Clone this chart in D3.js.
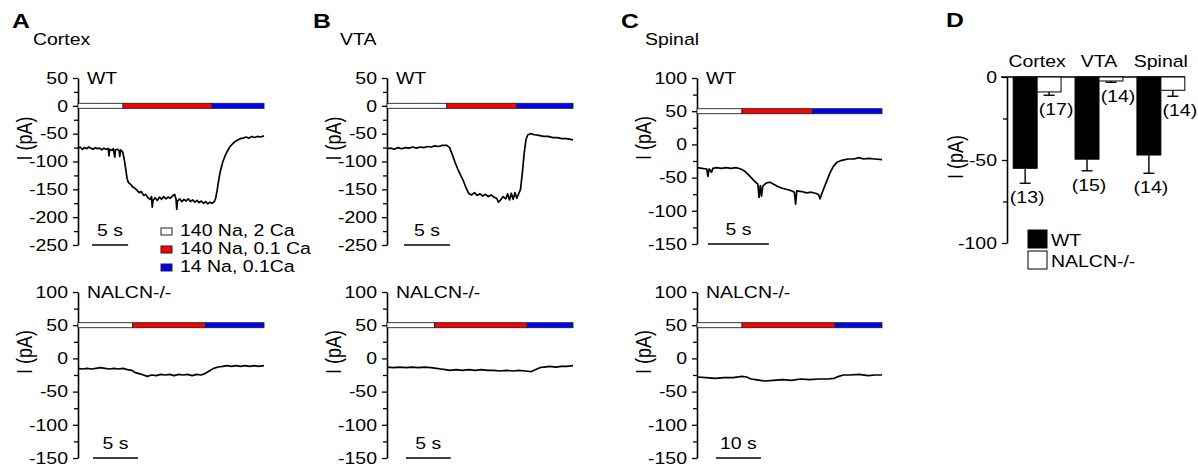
<!DOCTYPE html>
<html>
<head>
<meta charset="utf-8">
<script src="https://cdn.jsdelivr.net/npm/d3@7"></script>
<style>
  body { margin: 0; background: #fff; }
  svg { display: block; }
</style>
</head>
<body>
<div id="fig"></div>
<script>
// whole-cell currents, [time (s), current (pA)]
const cortexWT = [[0,-76],[0.3,-74],[0.6,-78],[0.9,-75],[1.2,-77],[1.5,-74],[1.8,-76],[2.1,-78],[2.4,-75],[2.7,-77],[3.0,-76],[3.3,-79],[3.6,-76],[3.9,-78],[4.2,-77],[4.3,-90],[4.4,-78],[4.7,-80],[4.9,-77],[5.1,-92],[5.2,-79],[5.5,-78],[5.7,-81],[5.8,-91],[5.9,-79],[6.2,-83],[6.4,-95],[6.6,-112],[6.8,-130],[7.0,-138],[7.3,-141],[7.6,-146],[7.9,-148],[8.2,-152],[8.5,-156],[8.8,-154],[9.1,-161],[9.4,-159],[9.7,-165],[10.0,-168],[10.2,-163],[10.3,-182],[10.4,-170],[10.7,-165],[11.0,-170],[11.3,-164],[11.6,-168],[11.9,-163],[12.2,-167],[12.5,-164],[12.8,-166],[13.1,-162],[13.4,-159],[13.6,-168],[13.7,-186],[13.8,-171],[14.1,-167],[14.4,-172],[14.7,-168],[15.0,-171],[15.3,-167],[15.6,-172],[15.9,-169],[16.2,-173],[16.5,-170],[16.8,-174],[17.1,-171],[17.4,-175],[17.7,-172],[18.0,-176],[18.3,-173],[18.6,-175],[18.9,-172],[19.1,-166],[19.3,-152],[19.5,-135],[19.7,-120],[19.9,-110],[20.1,-100],[20.4,-90],[20.7,-82],[21.0,-75],[21.3,-70],[21.7,-65],[22.1,-62],[22.5,-59],[22.9,-58],[23.3,-56],[23.7,-58],[24.1,-55],[24.5,-57],[24.9,-55],[25.3,-56],[25.8,-54]];
const cortexKO = [[0,-15],[0.5,-16],[1,-15],[1.5,-16],[2,-15],[2.5,-14],[3,-15],[3.5,-16],[4,-15],[4.5,-16],[5,-15],[5.5,-17],[6,-18],[6.3,-21],[6.8,-23],[7.3,-25],[7.7,-27],[8.2,-25],[8.7,-26],[9.2,-24],[9.7,-25],[10.2,-24],[10.7,-26],[11.2,-24],[11.7,-25],[12.2,-24],[12.7,-26],[13.2,-24],[13.7,-25],[14.1,-23],[14.6,-19],[15.1,-15],[15.6,-13],[16.1,-12],[16.6,-11],[17.1,-12],[17.6,-11],[18.1,-12],[18.6,-11],[19.1,-12],[19.6,-11],[20.1,-12],[20.7,-11]];
const vtaWT = [[0,-77],[0.4,-76],[0.8,-78],[1.2,-75],[1.6,-77],[2.0,-75],[2.4,-76],[2.8,-74],[3.2,-76],[3.6,-74],[4.0,-75],[4.4,-73],[4.8,-74],[5.2,-72],[5.6,-73],[6.0,-71],[6.5,-71],[6.8,-75],[7.1,-88],[7.4,-102],[7.7,-114],[8.0,-125],[8.3,-135],[8.6,-148],[8.9,-158],[9.2,-160],[9.5,-156],[9.8,-161],[10.1,-158],[10.4,-162],[10.7,-159],[11.0,-163],[11.3,-160],[11.6,-164],[11.9,-166],[12.1,-173],[12.3,-170],[12.6,-163],[12.9,-167],[13.1,-158],[13.3,-169],[13.5,-157],[13.7,-168],[13.9,-156],[14.1,-166],[14.3,-158],[14.5,-150],[14.7,-120],[14.9,-85],[15.1,-60],[15.3,-52],[15.6,-50],[16.0,-52],[16.5,-53],[17.0,-55],[17.5,-55],[18.0,-57],[18.5,-57],[19.0,-59],[19.5,-59],[20.2,-61]];
const vtaKO = [[0,-13],[0.7,-14],[1.4,-13],[2.1,-14],[2.8,-13],[3.5,-14],[4.2,-13],[4.9,-14],[5.5,-15],[6.0,-16],[6.5,-17],[7.0,-18],[7.7,-17],[8.4,-18],[9.1,-17],[9.8,-18],[10.5,-17],[11.2,-18],[11.9,-18],[12.6,-19],[13.3,-18],[14.0,-19],[14.7,-18],[15.4,-19],[16.0,-20],[16.5,-17],[17.0,-14],[17.5,-13],[18.1,-12],[18.8,-13],[19.4,-12],[20.0,-12],[20.7,-11]];
const spinalWT = [[0,-35],[0.4,-36],[0.8,-37],[0.9,-48],[1.0,-37],[1.2,-42],[1.3,-36],[1.6,-35],[2.0,-36],[2.4,-35],[2.8,-36],[3.2,-35],[3.6,-37],[3.9,-40],[4.3,-47],[4.7,-55],[5.0,-60],[5.1,-80],[5.2,-62],[5.3,-78],[5.4,-63],[5.7,-58],[6.0,-57],[6.3,-60],[6.6,-63],[7.0,-66],[7.4,-68],[7.8,-70],[8.0,-72],[8.1,-90],[8.2,-70],[8.6,-71],[9.0,-73],[9.4,-72],[9.8,-74],[10.0,-76],[10.1,-82],[10.3,-72],[10.6,-58],[10.9,-44],[11.2,-33],[11.5,-27],[11.9,-24],[12.4,-22],[12.9,-22],[13.3,-20],[13.7,-22],[14.1,-21],[14.6,-22],[15.2,-23]];
const spinalKO = [[0,-28],[2,-29],[4,-30],[6,-29],[8,-29],[10,-27],[11,-28],[12,-31],[13,-32],[14,-33],[15,-34],[17,-33],[19,-32],[21,-33],[23,-31],[25,-32],[27,-31],[29,-31],[30.5,-30],[31.5,-27],[32.5,-25],[34,-25],[36,-24],[38,-26],[39.5,-25],[41.1,-25]];

// solution switch times (s): end of white, red, blue segments
const solutions = ['140 Na, 2 Ca', '140 Na, 0.1 Ca', '14 Na, 0.1Ca'];
const solColors = ['#ffffff', '#ff0000', '#0000ff'];
const cortexWTStim = [6.25, 18.6, 25.8];
const cortexKOStim = [6.1, 14.2, 20.7];
const vtaWTStim = [6.5, 14.1, 20.2];
const vtaKOStim = [5.3, 15.6, 20.7];
const spinalWTStim = [3.7, 9.5, 15.2];
const spinalKOStim = [10, 30.7, 41.1];

// panel D summary
const regions = ['Cortex', 'VTA', 'Spinal'];
const wtMean = [-55, -49.5, -47];
const wtSem = [9, 7, 11];
const koMean = [-9, -2.4, -8];
const koSem = [2, 0.8, 3.6];
const wtN = [13, 15, 14];
const koN = [17, 14, 14];

const W = 1198, H = 468;
const FONT = '"Liberation Sans", Arial, sans-serif';
const FS = 16.5, SX = 1.18;

const svg = d3.select('#fig').append('svg')
    .attr('width', W).attr('height', H)
    .style('font-family', FONT);
svg.append('rect').attr('width', W).attr('height', H).attr('fill', '#fff');

// text helper, glyphs are a bit wide in the original
function txt(x, y, s, opt) {
    opt = opt || {};
    let tf = `translate(${x},${y}) scale(${SX},1)`;
    if (opt.rot) tf += ' rotate(-90)';
    return svg.append('text')
        .attr('transform', tf)
        .attr('text-anchor', opt.anchor || 'start')
        .style('font-size', (opt.size || FS) + 'px')
        .style('font-weight', opt.bold ? 'bold' : null)
        .text(s);
}

function yAxis(x, y, major, minor) {
    const g = svg.append('g').attr('transform', `translate(${x},0)`);
    g.call(d3.axisLeft(y).tickValues(minor).tickSize(4).tickSizeOuter(0).tickFormat(''))
        .select('.domain').remove();
    const a = svg.append('g').attr('transform', `translate(${x},0)`)
        .call(d3.axisLeft(y).tickValues(major).tickSize(5).tickPadding(5).tickSizeOuter(0)
            .tickFormat(d => String(d)));
    svg.selectAll('.tick line').attr('stroke', '#000').attr('stroke-width', 1.3);
    a.select('.domain').attr('stroke', '#000').attr('stroke-width', 1.6);
    a.selectAll('.tick text').each(function () {
        const t = d3.select(this);
        const tx = +t.attr('x');
        t.attr('x', null).attr('transform', `translate(${tx},0) scale(${SX},1)`)
            .style('font-size', FS + 'px').style('font-family', FONT).attr('fill', '#000');
    });
    a.attr('font-size', null).attr('font-family', null);
}

// trace panels
const tracePanels = [
    { data: cortexWT, stim: cortexWTStim, T: 25.8, x0: 78, x1: 264, yr: [245, 78], dom: [-250, 50], level: 0, tag: 'WT', sb: 1.95, sbLen: 5, sbText: '5 s' },
    { data: cortexKO, stim: cortexKOStim, T: 20.7, x0: 78, x1: 264, yr: [458, 292], dom: [-150, 100], level: 50, tag: 'NALCN-/-', sb: 1.67, sbLen: 5, sbText: '5 s' },
    { data: vtaWT, stim: vtaWTStim, T: 20.2, x0: 387, x1: 573, yr: [245, 78], dom: [-250, 50], level: 0, tag: 'WT', sb: 1.85, sbLen: 5, sbText: '5 s' },
    { data: vtaKO, stim: vtaKOStim, T: 20.7, x0: 387, x1: 573, yr: [458, 292], dom: [-150, 100], level: 50, tag: 'NALCN-/-', sb: 2.1, sbLen: 5, sbText: '5 s' },
    { data: spinalWT, stim: spinalWTStim, T: 15.2, x0: 697, x1: 882, yr: [244, 78], dom: [-150, 100], level: 50, tag: 'WT', sb: 0.9, sbLen: 5, sbText: '5 s' },
    { data: spinalKO, stim: spinalKOStim, T: 41.1, x0: 697, x1: 882, yr: [458, 292], dom: [-150, 100], level: 50, tag: 'NALCN-/-', sb: 4.2, sbLen: 10, sbText: '10 s' }
];

tracePanels.forEach(function (p) {
    const x = d3.scaleLinear().domain([0, p.T]).range([p.x0, p.x1]);
    const y = d3.scaleLinear().domain(p.dom).range(p.yr);
    const major = d3.range(p.dom[1], p.dom[0] - 1, -50);
    const minor = d3.range(p.dom[1] - 25, p.dom[0], -50);
    yAxis(p.x0, y, major, minor);

    // solution bar
    let t0 = 0;
    p.stim.forEach(function (t1, i) {
        svg.append('rect')
            .attr('x', x(t0)).attr('y', y(p.level) - 2.5)
            .attr('width', x(t1) - x(t0)).attr('height', 5)
            .attr('fill', solColors[i]).attr('stroke', '#222').attr('stroke-width', 0.9);
        t0 = t1;
    });

    const line = d3.line().x(d => x(d[0])).y(d => y(d[1]));
    svg.append('path').datum(p.data)
        .attr('d', line)
        .attr('fill', 'none').attr('stroke', '#000').attr('stroke-width', 1.7)
        .attr('stroke-linejoin', 'round');

    // scale bar
    const yb = p.yr[0];
    svg.append('line')
        .attr('x1', x(p.sb)).attr('x2', x(p.sb + p.sbLen))
        .attr('y1', yb).attr('y2', yb)
        .attr('stroke', '#000').attr('stroke-width', 1.4);
    txt((x(p.sb) + x(p.sb + p.sbLen)) / 2, yb - 9, p.sbText, { anchor: 'middle' });

    txt(p.x0 + 9, p.yr[1] + 6, p.tag);
    txt(p.x0 - 46, (p.yr[0] + p.yr[1]) / 2 - 23, 'I (pA)', { rot: true, anchor: 'middle', size: 18 });
});

// panel letters and titles
[['A', 12, 'Cortex', 33], ['B', 313, 'VTA', 340], ['C', 621, 'Spinal', 645]].forEach(function (d) {
    txt(d[1], 28, d[0], { bold: true, size: 21 });
    txt(d[3], 45, d[2], { size: 16.5 });
});
txt(946, 27, 'D', { bold: true, size: 21 });

// solution legend in panel A
solutions.forEach(function (s, i) {
    const yb = 236 + i * 18;
    svg.append('rect')
        .attr('x', 161).attr('y', yb - 8).attr('width', 11).attr('height', 7)
        .attr('fill', solColors[i]).attr('stroke', '#222').attr('stroke-width', 1);
    txt(180, yb, s);
});

// panel D bar chart
const yD = d3.scaleLinear().domain([-100, 0]).range([243, 77]);
const xD = d3.scaleBand().domain(regions).range([1007, 1191]).paddingInner(0.226).paddingOuter(0.1);
const bw = xD.bandwidth() / 2;

yAxis(1007, yD, [0, -50, -100], [-25, -75]);
svg.append('line')
    .attr('x1', 1001).attr('x2', 1185).attr('y1', yD(0)).attr('y2', yD(0))
    .attr('stroke', '#000').attr('stroke-width', 1.4);

const groups = [
    { mean: wtMean, sem: wtSem, n: wtN, fill: '#000', off: 0, lab: 2 },
    { mean: koMean, sem: koSem, n: koN, fill: '#fff', off: 1, lab: 7 }
];
groups.forEach(function (gp) {
    regions.forEach(function (r, i) {
        const bx = xD(r) + gp.off * bw;
        const cx = bx + bw / 2;
        svg.append('rect')
            .attr('x', bx).attr('y', yD(0))
            .attr('width', bw).attr('height', yD(gp.mean[i]) - yD(0))
            .attr('fill', gp.fill).attr('stroke', '#000').attr('stroke-width', 1);
        const ye = yD(gp.mean[i] - gp.sem[i]);
        svg.append('line').attr('x1', cx).attr('x2', cx)
            .attr('y1', yD(gp.mean[i])).attr('y2', ye)
            .attr('stroke', '#000').attr('stroke-width', 1.4);
        svg.append('line').attr('x1', cx - 5.5).attr('x2', cx + 5.5)
            .attr('y1', ye).attr('y2', ye)
            .attr('stroke', '#000').attr('stroke-width', 1.4);
        txt(cx + gp.lab, ye + 20, '(' + gp.n[i] + ')', { anchor: 'middle' });
    });
});
regions.forEach(function (r) {
    txt(xD(r) + xD.bandwidth() / 2, 67, r, { anchor: 'middle' });
});
txt(963, 157, 'I (pA)', { rot: true, anchor: 'middle', size: 18 });

// legend D
[['WT', '#000'], ['NALCN-/-', '#fff']].forEach(function (d, i) {
    svg.append('rect')
        .attr('x', 1028).attr('y', 230 + i * 21).attr('width', 19).attr('height', 18)
        .attr('fill', d[1]).attr('stroke', '#000').attr('stroke-width', 1);
    txt(1051, 246 + i * 21, d[0]);
});
</script>
</body>
</html>
